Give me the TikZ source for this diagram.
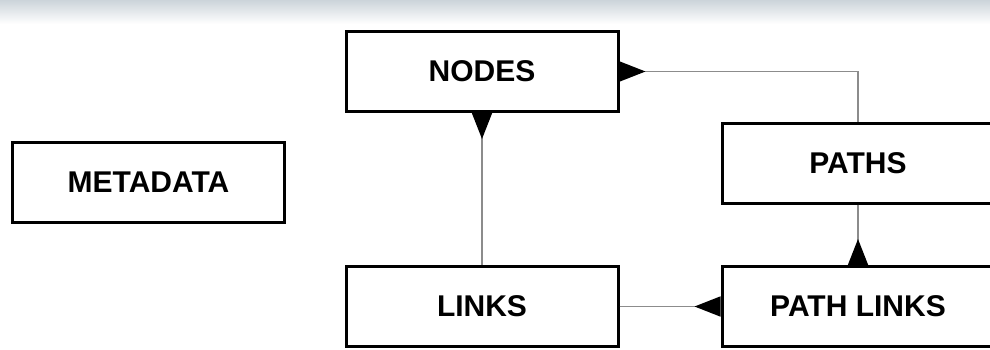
\documentclass[tikz,border=0pt]{standalone}
\usepackage{fontspec}
\setmainfont{Liberation Sans}
\usetikzlibrary{arrows.meta}
\definecolor{bandgray}{RGB}{204,212,218}
\definecolor{linegray}{gray}{0.55}

\begin{document}
\begin{tikzpicture}[x=1pt, y=-1pt,
    box/.style={rectangle, draw, line width=3pt, minimum width=272pt, minimum height=80pt,
      font=\fontsize{30}{36}\selectfont\bfseries},
    link/.style={draw=linegray, line width=1.5pt,
      -{Triangle[reversed, length=26pt, width=20pt, color=black]}}]
        \useasboundingbox (0,0) rectangle (990,349);
        \clip (0,0) rectangle (990,349);
        \shade[top color=bandgray, bottom color=white] (0,0) rectangle (990,24);

        % ノード（テーブル）の定義
        \node[box] (META) at (148.5,182.5) {METADATA};
        \node[box] (NODES) at (482,71.5) {NODES};
        \node[box] (PATHS) at (858,163) {PATHS};
        \node[box] (LINKS) at (482,306.5) {LINKS};
        \node[box] (PLINKS) at (858,306.5) {PATH LINKS};

        % 矢印（参照関係）の描画
        \draw[link] (LINKS) -- (NODES);
        \draw[link] (LINKS) -- (PLINKS);
        \draw[link] (PATHS) -- (PLINKS);
        \draw[link] (PATHS.north) |- (NODES.east);
    \end{tikzpicture}
\end{document}
